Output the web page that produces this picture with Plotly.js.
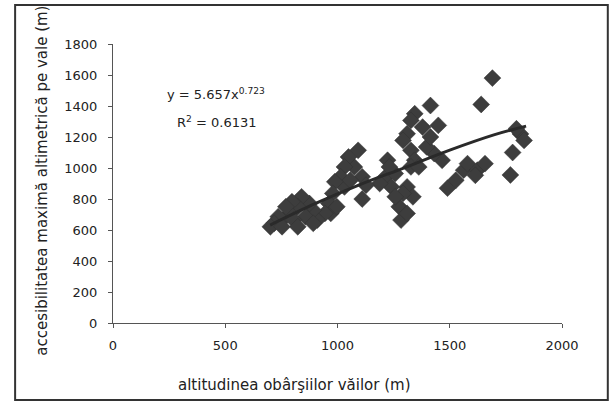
<!DOCTYPE html>
<html>
<head>
<meta charset="utf-8">
<script src="https://cdn.plot.ly/plotly-3.0.1.min.js"></script>
<style>html,body{margin:0;padding:0;background:#fff;}#chart{width:614px;height:405px;}</style>
</head>
<body>
<div id="chart"></div>
<script>
// altitudinea obârşiilor văilor (m)
const altX = [1690,1640,1770,1780,1815,1831,1797,1490,1527,1562,1579,1623,1657,1614,
  1414,1449,1466,1431,1379,1344,1327,1310,1292,1327,1344,1327,1362,1397,1414,
  1310,1336,1292,1275,1283,1310,1223,1214,1240,1188,1257,1110,1110,1075,1092,1049,
  1031,1014,1031,1057,988,979,962,970,997,944,910,892,875,840,823,857,797,788,770,
  753,736,718,701,805,823,753,892,1127,1257,1231];
// accesibilitatea maximă altimetrică pe vale (m)
const accY = [1580,1410,955,1100,1220,1178,1253,870,921,986,1028,986,1028,953,
  1403,1275,1050,1093,1264,1350,1307,1221,1178,1114,1050,1007,1007,1136,1200,
  878,814,836,750,664,707,1050,943,878,900,814,800,943,1007,1114,1071,
  1007,943,878,921,911,836,771,707,750,707,664,728,771,814,750,686,782,707,750,
  664,686,643,621,664,621,621,643,889,964,1007];
// trend line points (y = 5.657x^0.723)
const trendX = [700, 900, 1100, 1300, 1500, 1700, 1840];
const trendY = [632, 770, 893, 1003, 1115, 1215, 1270];
const eqText = "y = 5.657x<sup>0.723</sup>";
const r2Text = "R<sup>2</sup> = 0.6131";
const xTitle = "altitudinea obârşiilor văilor (m)";
const yTitle = "accesibilitatea maximă altimetrică pe vale (m)";

const traces = [
  {x: altX, y: accY, type: 'scatter', mode: 'markers',
   marker: {symbol: 'diamond', size: 13, color: '#3d3d3d', line: {color: '#333', width: 0.5}},
   hoverinfo: 'x+y'},
  {x: trendX, y: trendY, type: 'scatter', mode: 'lines',
   line: {color: '#2a2a2a', width: 3, shape: 'spline'}, hoverinfo: 'skip'}
];

const font = "'DejaVu Sans', 'Open Sans', sans-serif";
const layout = {
  width: 614, height: 405,
  margin: {l: 113, r: 52, t: 44, b: 82},
  paper_bgcolor: '#fff', plot_bgcolor: '#fff',
  showlegend: false,
  font: {family: font, color: '#222', size: 12},
  xaxis: {range: [0, 2000], tickvals: [0, 500, 1000, 1500, 2000],
    showgrid: false, zeroline: false, showline: true, linecolor: '#555', linewidth: 1,
    ticks: 'outside', ticklen: 4, tickcolor: '#555', ticklabelstandoff: 6,
    tickfont: {family: font, size: 13, color: '#222'}, fixedrange: true},
  yaxis: {range: [0, 1800], tickvals: [0,200,400,600,800,1000,1200,1400,1600,1800],
    showgrid: false, zeroline: false, showline: true, linecolor: '#555', linewidth: 1,
    ticks: 'outside', ticklen: 4, tickcolor: '#555', ticklabelstandoff: 8,
    tickfont: {family: font, size: 13, color: '#222'}, fixedrange: true},
  shapes: [
    {type: 'rect', xref: 'paper', yref: 'paper', x0: -0.218, x1: 1.102, y0: -0.276, y1: 1.140,
     line: {color: '#333', width: 2}, fillcolor: 'rgba(0,0,0,0)', layer: 'below'}
  ],
  annotations: [
    {text: eqText, xref: 'paper', yref: 'paper', x: 0.115, y: 0.82, xanchor: 'left', yanchor: 'middle',
     showarrow: false, font: {family: font, size: 13, color: '#222'}},
    {text: r2Text, xref: 'paper', yref: 'paper', x: 0.138, y: 0.72, xanchor: 'left', yanchor: 'middle',
     showarrow: false, font: {family: font, size: 13, color: '#222'}},
    {text: xTitle, xref: 'paper', yref: 'paper', x: 0.405, y: -0.222, xanchor: 'center', yanchor: 'middle',
     showarrow: false, font: {family: font, size: 15, color: '#222'}},
    {text: yTitle, xref: 'paper', yref: 'paper', x: -0.158, y: 0.51, xanchor: 'center', yanchor: 'middle',
     textangle: -90, showarrow: false, font: {family: font, size: 15, color: '#222'}}
  ]
};

Plotly.newPlot('chart', traces, layout, {displayModeBar: false, staticPlot: true});
</script>
</body>
</html>
